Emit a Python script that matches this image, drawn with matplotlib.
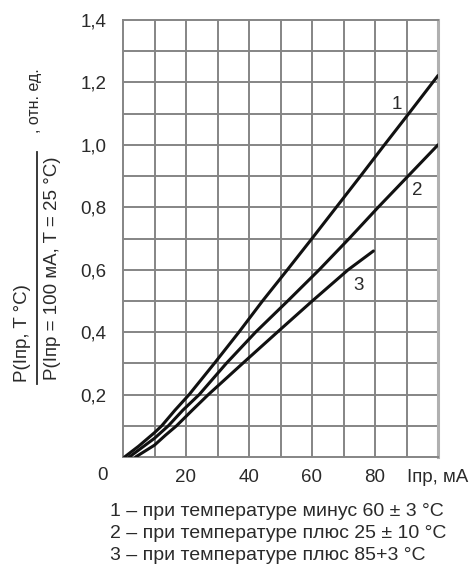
import matplotlib
matplotlib.use("Agg")
import matplotlib.pyplot as plt
from matplotlib.lines import Line2D

plt.rcParams['font.family'] = ['Liberation Sans', 'DejaVu Sans']

# Data
c1_x = [0.5, 5, 10, 12.3, 16.5, 21, 29, 36.8, 44.3, 52.2, 60, 67.7, 75.4, 83, 90.7, 100]
c1_y = [0.0, 0.035, 0.078, 0.10, 0.15, 0.20, 0.30, 0.40, 0.50, 0.60, 0.70, 0.80, 0.90, 1.00, 1.10, 1.222]
c2_x = [2, 6, 10, 14.4, 19, 24.2, 32.8, 42.1, 52.3, 62.3, 71.8, 81, 90.5, 100]
c2_y = [0.0, 0.03, 0.06, 0.10, 0.15, 0.20, 0.30, 0.40, 0.50, 0.60, 0.70, 0.80, 0.90, 1.00]
c3_x = [4, 10, 13.5, 17, 22, 27.1, 38, 49, 60.1, 71.5, 79.5]
c3_y = [0.0, 0.038, 0.07, 0.10, 0.15, 0.20, 0.30, 0.40, 0.50, 0.60, 0.66]

curve_labels = ['1', '2', '3']
label_pos = [(87, 1.13), (93.5, 0.853), (74.7, 0.55)]

y_ticks = [0.2, 0.4, 0.6, 0.8, 1.0, 1.2, 1.4]
y_tick_labels = ['0,2', '0,4', '0,6', '0,8', '1,0', '1,2', '1,4']
x_ticks = [20, 40, 60, 80, 100]
x_tick_labels = ['20', '40', '60', '80', 'Iпр, мА']

legend_lines = [
    '1 – при температуре минус 60 ± 3 °С',
    '2 – при температуре плюс 25 ± 10 °С',
    '3 – при температуре плюс 85+3 °С',
]

FS = 13.5
TXT = '#2a2a2a'
W, H = 474, 567
fig = plt.figure(figsize=(W / 100, H / 100), dpi=100)
ax = fig.add_axes([123 / W, 1 - 457 / H, (438 - 123) / W, (457 - 20) / H])

ax.set_xlim(0, 100)
ax.set_ylim(0, 1.4)

grid_color = '#858585'
for gx in range(10, 100, 10):
    ax.axvline(gx, color=grid_color, lw=1.4, zorder=1)
for gy in [i / 10 for i in range(1, 14)]:
    ax.axhline(gy, color=grid_color, lw=1.4, zorder=1)
for s in ax.spines.values():
    s.set_color(grid_color)
    s.set_linewidth(1.4)
ax.spines['right'].set_color('#b0b0b0')
ax.spines['right'].set_linewidth(2.2)

for xs, ys in [(c1_x, c1_y), (c2_x, c2_y), (c3_x, c3_y)]:
    ax.plot(xs, ys, color='#111111', lw=2.2, zorder=3, solid_capstyle='round',
            solid_joinstyle='round')

for lab, (lx, ly) in zip(curve_labels, label_pos):
    ax.text(lx, ly, lab, fontsize=FS, color=TXT, ha='center', va='center', zorder=4)

ax.set_yticks(y_ticks)
ax.set_yticklabels(y_tick_labels)
ax.set_xticks(x_ticks)
ax.set_xticklabels(x_tick_labels)
ax.tick_params(length=0, labelsize=FS, labelcolor=TXT)
ax.tick_params(axis='y', pad=12)
ax.tick_params(axis='x', pad=9)

# corner zero label
fig.text(103 / W, 1 - 475 / H, '0', fontsize=FS, color=TXT, ha='center', va='center')

# y-axis fraction label
fig.text(23 / W, 1 - 333 / H, 'P(Iпр, T °C)', rotation=90, fontsize=FS,
         color=TXT, ha='center', va='center')
fig.add_artist(Line2D([37 / W, 37 / W], [1 - 384 / H, 1 - 152 / H],
                      transform=fig.transFigure, color=TXT, lw=1.3))
fig.text(53 / W, 1 - 268 / H, 'P(Iпр = 100 мА, T = 25 °C)', rotation=90, fontsize=FS,
         color=TXT, ha='center', va='center')
fig.text(34 / W, 1 - 101 / H, ', отн. ед.', rotation=90, fontsize=11.5,
         color=TXT, ha='center', va='center')

# legend text
for i, line in enumerate(legend_lines):
    fig.text(110 / W, 1 - (511.7 + 21.7 * i) / H, line, fontsize=14,
             color=TXT, ha='left', va='center')

fig.savefig('out.png', dpi=100)
